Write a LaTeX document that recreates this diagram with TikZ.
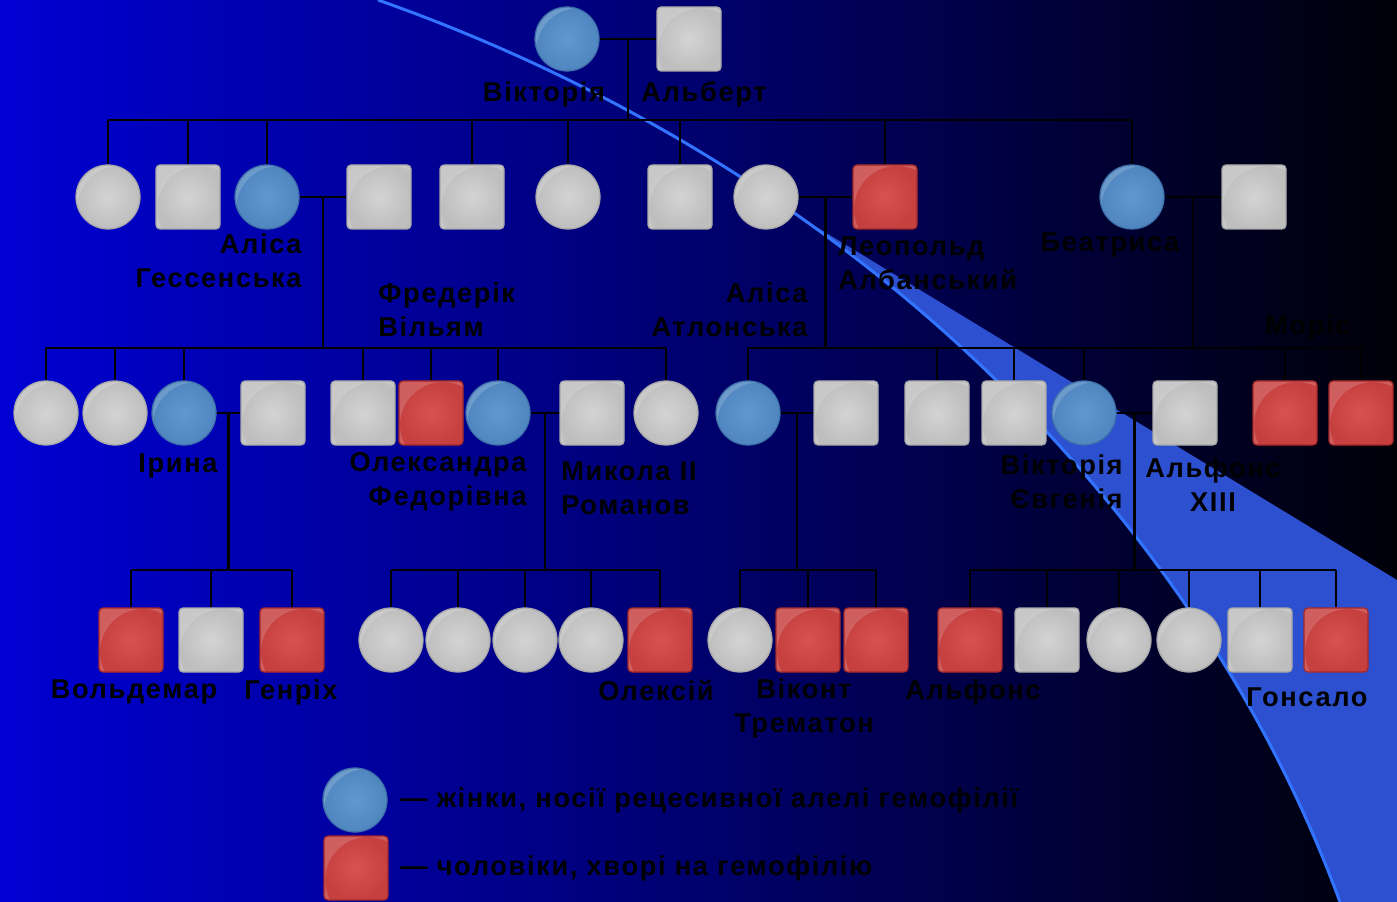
\documentclass[tikz,border=0pt]{standalone}
\usepackage{fontspec}
\setmainfont{Liberation Sans}
\newfontfamily\lblfont{Liberation Sans}[LetterSpace=6]
\usetikzlibrary{calc, positioning}

\definecolor{bgleft}{RGB}{0,0,212}
\definecolor{bgright}{RGB}{0,0,8}
\definecolor{swoosh}{RGB}{50,115,255}
\definecolor{wedge}{RGB}{45,80,208}
\definecolor{grayhi}{RGB}{212,212,212}
\definecolor{graylo}{RGB}{190,190,190}
\definecolor{grayrim}{RGB}{168,168,168}
\definecolor{bluehi}{RGB}{98,152,208}
\definecolor{bluelo}{RGB}{80,134,192}
\definecolor{bluerim}{RGB}{62,112,170}
\definecolor{redhi}{RGB}{216,82,82}
\definecolor{redlo}{RGB}{198,64,64}
\definecolor{redrim}{RGB}{165,40,40}

\tikzset{
  gloss/.style={path picture={
    \fill[white, opacity=0.16, even odd rule]
      (path picture bounding box.south west) rectangle (path picture bounding box.north east)
      ($(path picture bounding box.center)+(2.4mm,-2.4mm)$) circle[radius=8.6mm];}},
  fem/.style={circle, minimum size=12.8mm, inner sep=0pt, line width=0.25mm, gloss},
  male/.style={rectangle, rounded corners=0.8mm, minimum size=12.8mm, inner sep=0pt, line width=0.25mm, gloss},
  well/.style={inner color=grayhi, outer color=graylo, draw=grayrim},
  carrier/.style={inner color=bluehi, outer color=bluelo, draw=bluerim},
  sick/.style={inner color=redhi, outer color=redlo, draw=redrim},
  kin/.style={black, line width=0.5mm},
  lbl/.style={font=\lblfont\bfseries\fontsize{15.5pt}{19.3pt}\selectfont, text=black, inner sep=0pt}
}

\begin{document}
\begin{tikzpicture}[x=0.2mm, y=-0.2mm]
\useasboundingbox (0,0) rectangle (1397,902);
\shade[left color=bgleft, right color=bgright] (0,0) rectangle (1397,902);

% swoosh
\begin{scope}
  \clip (795,214) -- (1397,580) -- (1397,902) -- (795,902) -- cycle;
  \fill[wedge] (378,0) .. controls (860,170) and (1200,520) .. (1340,902) -- (1397,902) -- (1397,0) -- cycle;
\end{scope}
\draw[swoosh, line width=0.6mm] (378,0) .. controls (860,170) and (1200,520) .. (1340,902);

% generation I
\node[fem, carrier] (vic) at (567,39) {};
\node[male, well] (alb) at (689,39) {};

% generation II
\node[fem, well] (a1) at (108,197) {};
\node[male, well] (a2) at (188,197) {};
\node[fem, carrier] (a3) at (267,197) {};
\node[male, well] (s3) at (379,197) {};
\node[male, well] (a4) at (472,197) {};
\node[fem, well] (a5) at (568,197) {};
\node[male, well] (a6) at (680,197) {};
\node[fem, well] (s7) at (766,197) {};
\node[male, sick] (a7) at (885,197) {};
\node[fem, carrier] (a8) at (1132,197) {};
\node[male, well] (s8) at (1254,197) {};

% generation III
\node[fem, well] (h1) at (46,413) {};
\node[fem, well] (h2) at (115,413) {};
\node[fem, carrier] (h3) at (184,413) {};
\node[male, well] (sh3) at (273,413) {};
\node[male, well] (h4) at (363,413) {};
\node[male, sick] (h5) at (431,413) {};
\node[fem, carrier] (h6) at (498,413) {};
\node[male, well] (sh6) at (592,413) {};
\node[fem, well] (h7) at (666,413) {};
\node[fem, carrier] (l1) at (748,413) {};
\node[male, well] (sl1) at (846,413) {};
\node[male, well] (l2) at (937,413) {};
\node[male, well] (t1) at (1014,413) {};
\node[fem, carrier] (t2) at (1084,413) {};
\node[male, well] (st2) at (1185,413) {};
\node[male, sick] (t3) at (1285,413) {};
\node[male, sick] (t4) at (1361,413) {};

% generation IV
\node[male, sick] (i1) at (131,640) {};
\node[male, well] (i2) at (211,640) {};
\node[male, sick] (i3) at (292,640) {};
\node[fem, well] (n1) at (391,640) {};
\node[fem, well] (n2) at (458,640) {};
\node[fem, well] (n3) at (525,640) {};
\node[fem, well] (n4) at (591,640) {};
\node[male, sick] (n5) at (660,640) {};
\node[fem, well] (c1) at (740,640) {};
\node[male, sick] (c2) at (808,640) {};
\node[male, sick] (c3) at (876,640) {};
\node[male, sick] (e1) at (970,640) {};
\node[male, well] (e2) at (1047,640) {};
\node[fem, well] (e3) at (1119,640) {};
\node[fem, well] (e4) at (1189,640) {};
\node[male, well] (e5) at (1260,640) {};
\node[male, sick] (e6) at (1336,640) {};

% marriages
\draw[kin] (vic) -- (alb);
\draw[kin] (a3) -- (s3);
\draw[kin] (s7) -- (a7);
\draw[kin] (a8) -- (s8);
\draw[kin] (h3) -- (sh3);
\draw[kin] (h6) -- (sh6);
\draw[kin] (l1) -- (sl1);
\draw[kin] (t2) -- (st2);
\coordinate (m1) at ($(vic.east)!0.5!(alb.west)$);
\coordinate (m2) at ($(a3.east)!0.5!(s3.west)$);
\coordinate (m3) at ($(s7.east)!0.5!(a7.west)$);
\coordinate (m4) at ($(a8.east)!0.5!(s8.west)$);
\coordinate (m5) at ($(h3.east)!0.5!(sh3.west)$);
\coordinate (m6) at ($(h6.east)!0.5!(sh6.west)$);
\coordinate (m7) at ($(l1.east)!0.5!(sl1.west)$);
\coordinate (m8) at ($(t2.east)!0.5!(st2.west)$);

% sibling bars
\coordinate (y1) at (0,120);
\coordinate (y2) at (0,348);
\coordinate (y3) at (0,570);
\draw[kin] (m1) -- (m1 |- y1);
\draw[kin] (a1.north |- y1) -- (a8.north |- y1);
\foreach \c in {a1,a2,a3,a4,a5,a6,a7,a8}
  \draw[kin] (\c.north) -- (\c.north |- y1);
\draw[kin] (m2) -- (m2 |- y2);
\draw[kin] (h1.north |- y2) -- (h7.north |- y2);
\foreach \c in {h1,h2,h3,h4,h5,h6,h7}
  \draw[kin] (\c.north) -- (\c.north |- y2);
\draw[kin] (m3) -- (m3 |- y2);
\draw[kin] (m4) -- (m4 |- y2);
\draw[kin] (l1.north |- y2) -- (t4.north |- y2);
\foreach \c in {l1,l2,t1,t2,t3,t4}
  \draw[kin] (\c.north) -- (\c.north |- y2);
\draw[kin] (m5) -- (m5 |- y3);
\draw[kin] (i1.north |- y3) -- (i3.north |- y3);
\foreach \c in {i1,i2,i3}
  \draw[kin] (\c.north) -- (\c.north |- y3);
\draw[kin] (m6) -- (m6 |- y3);
\draw[kin] (n1.north |- y3) -- (n5.north |- y3);
\foreach \c in {n1,n2,n3,n4,n5}
  \draw[kin] (\c.north) -- (\c.north |- y3);
\draw[kin] (m7) -- (m7 |- y3);
\draw[kin] (c1.north |- y3) -- (c3.north |- y3);
\foreach \c in {c1,c2,c3}
  \draw[kin] (\c.north) -- (\c.north |- y3);
\draw[kin] (m8) -- (m8 |- y3);
\draw[kin] (e1.north |- y3) -- (e6.north |- y3);
\foreach \c in {e1,e2,e3,e4,e5,e6}
  \draw[kin] (\c.north) -- (\c.north |- y3);

% names
\node[lbl] (nvic) at (544,94) {Вікторія};
\node[lbl] (nalb) at (704,94) {Альберт};
\node[lbl, align=right, anchor=east] (nah) at (302,261) {Аліса\\Гессенська};
\node[lbl, align=left, anchor=west] (nfw) at (378,310) {Фредерік\\Вільям};
\node[lbl, align=left, anchor=west] (nleo) at (838,263) {Леопольд\\Албанський};
\node[lbl, align=right, anchor=east] (naa) at (808,310) {Аліса\\Атлонська};
\node[lbl] (nbea) at (1110,245) {Беатриса};
\node[lbl] (nmor) at (1308,327) {Моріс};
\node[lbl] (nir) at (178,466) {Ірина};
\node[lbl, align=right, anchor=east] (nalx) at (527,482) {Олександра\\Федорівна};
\node[lbl, align=left, anchor=west] (nnik) at (561,488) {Микола II\\Романов};
\node[lbl, align=right, anchor=east] (nve) at (1123,482) {Вікторія\\Євгенія};
\node[lbl, align=center] (nalf) at (1213,485) {Альфонс\\XIII};
\node[lbl] (nwal) at (134,692) {Вольдемар};
\node[lbl] (nhen) at (291,692) {Генріх};
\node[lbl] (nolx) at (656,690) {Олексій};
\node[lbl, align=center] (ntre) at (804,708) {Віконт\\Трематон};
\node[lbl] (nalf2) at (973,692) {Альфонс};
\node[lbl] (ngon) at (1307,697) {Гонсало};

% legend
\node[fem, carrier] (kf) at (355,800) {};
\node[male, sick] (km) at (356,868) {};
\node[lbl, anchor=west] (tf) at (400,800) {— жінки, носії рецесивної алелі гемофілії};
\node[lbl, anchor=west] (tm) at (400,868) {— чоловіки, хворі на гемофілію};
\end{tikzpicture}
\end{document}
